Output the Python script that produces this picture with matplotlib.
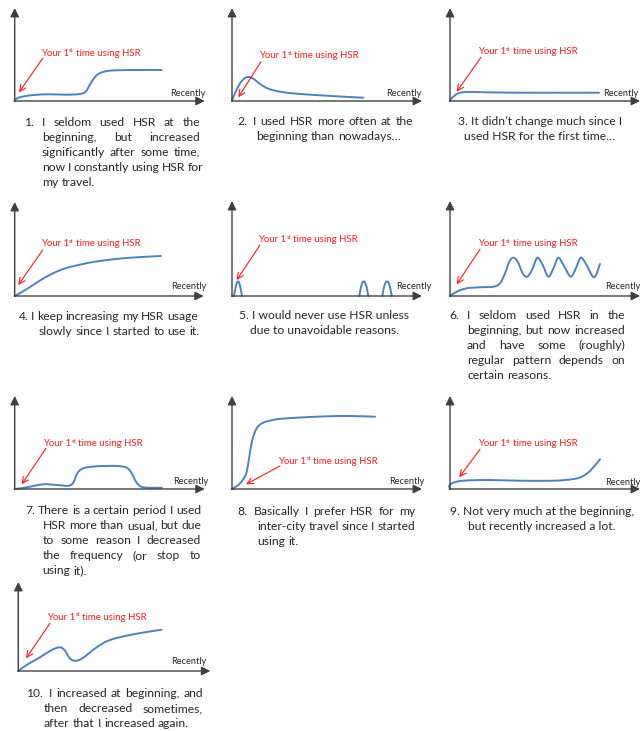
import numpy as np
import matplotlib
matplotlib.use('Agg')
import matplotlib.pyplot as plt
from matplotlib.path import Path
from matplotlib.patches import PathPatch

plt.rcParams['font.family'] = ['Lato', 'DejaVu Sans']

# ---- curve readings (time from first use, usage height), one pair per panel ----
c1_t = [0, 5, 18.7, 35, 52, 65, 71, 75, 80, 85, 95, 118, 147]
c1_u = [1, 3.7, 6, 6.7, 6.3, 7, 9.3, 16, 23.7, 27.7, 30.3, 31, 31]

c2_t = [0, 3, 8, 13, 16.3, 21.3, 28, 36.3, 48, 64.7, 88, 111.3, 131.3]
c2_u = [1, 7.7, 17.7, 23, 24, 22.3, 17, 12.3, 9.3, 7.3, 5.7, 4.3, 3.3]

c3_t = [0, 3.3, 8.3, 16.7, 36.7, 70, 110, 149]
c3_u = [1, 4.3, 7.7, 9, 8.7, 8.3, 8.3, 8.3]

c4_t = [0, 11.7, 25, 38.3, 51.7, 68.3, 85, 111.7, 146.3]
c4_u = [0, 6.7, 15.3, 22.7, 28, 32, 35, 38, 40]

# panel 5: three separate short trips
c5a_t = [2, 3.5, 5, 6, 7, 8.5, 10]
c5a_u = [0, 8, 13.5, 14.5, 13.5, 8, 0]
c5b_t = [127.3, 128.8, 130.5, 131.8, 133, 134.8, 136.3]
c5b_u = [0, 8, 13.5, 14.5, 13.5, 8, 0]
c5c_t = [150.3, 151.8, 153.6, 155, 156.4, 158.2, 159.7]
c5c_u = [0, 8, 13.5, 14.5, 13.5, 8, 0]

c6_t = [0, 6.7, 16.7, 30, 43.3, 50, 55, 59.3, 63.3, 67.7, 72.7, 77.3, 82.3, 87.3,
        92.7, 98.3, 103.3, 108.3, 114, 120.7, 125.7, 130.7, 136, 144, 150]
c6_u = [0, 4.3, 7.7, 8.7, 9.3, 12.7, 22.7, 34.3, 38.3, 34.3, 22.7, 19.3, 26.7, 38.3,
        31, 19.3, 27.3, 38.3, 30, 19.3, 27.3, 38.3, 32, 18.7, 32]

c7_t = [0.3, 12, 28.6, 42, 53.6, 58.6, 62.6, 68.6, 82, 102, 112, 117, 122, 128.6, 147]
c7_u = [0, 1.7, 4.7, 4, 3.3, 6.3, 15.7, 20.7, 22.7, 23, 21.3, 15.7, 6.3, 1.7, 1.3]

c8_t = [0, 6.3, 11.3, 14.7, 17.3, 20.3, 24.7, 31.3, 44.7, 64.7, 94.7, 118, 143]
c8_u = [0, 4, 9.7, 17.3, 32.3, 49, 60.7, 66.3, 69.7, 71.3, 72.7, 73, 72.3]

c9_t = [0, -0.7, 3.3, 13.3, 36.7, 70, 103.3, 121.7, 131.7, 140, 150]
c9_u = [0, 3.3, 6.3, 8.3, 9, 8.3, 8.3, 9.7, 12.3, 18, 29.7]

c10_t = [0, 8.3, 21.7, 33.4, 41.7, 46.7, 50.7, 55.7, 63.4, 78.4, 91.7, 115, 143.4]
c10_u = [0, 6, 13.7, 21, 23.7, 20.3, 13.7, 10.3, 12.3, 23.7, 31, 36.7, 41.3]

curves = [
    [(c1_t, c1_u)], [(c2_t, c2_u)], [(c3_t, c3_u)], [(c4_t, c4_u)],
    [(c5a_t, c5a_u), (c5b_t, c5b_u), (c5c_t, c5c_u)],
    [(c6_t, c6_u)], [(c7_t, c7_u)], [(c8_t, c8_u)], [(c9_t, c9_u)], [(c10_t, c10_u)],
]

# ---- captions ----
numbers = ['1.', '2.', '3.', '4.', '5.', '6.', '7.', '8.', '9.', '10.']
captions = [
    ['I seldom used HSR at the', 'beginning, but increased',
     'significantly after some time,', 'now I constantly using HSR for', 'my travel.'],
    ['I used HSR more often at the', 'beginning than nowadays…'],
    ['It didn’t change much since I', 'used HSR for the first time…'],
    ['I keep increasing my HSR usage', 'slowly since I started to use it.'],
    ['I would never use HSR unless', 'due to unavoidable reasons.'],
    ['I seldom used HSR in the', 'beginning, but now increased',
     'and have some (roughly)', 'regular pattern depends on', 'certain reasons.'],
    ['There is a certain period I used', 'HSR more than usual, but due',
     'to some reason I decreased', 'the frequency (or stop to', 'using it).'],
    ['Basically I prefer HSR for my', 'inter-city travel since I started', 'using it.'],
    ['Not very much at the beginning,', 'but recently increased a lot.'],
    ['I increased at beginning, and', 'then decreased sometimes,',
     'after that I increased again.'],
]
first_label = ('Your 1', 'st', 'time using HSR')
x_label = 'Recently'

# ---- layout (pixels) ----
origins = [(14.7, 101), (232, 101), (450, 101), (14.7, 296), (232, 296), (450, 296),
           (14.7, 489), (232, 489), (450, 489), (18.3, 671)]
ax_h = [93, 93, 93, 94, 95, 95, 93, 93, 93, 89]
ax_w = [190, 190, 190, 189, 190, 190, 190, 190, 190, 192]
recent_pos = [(155, 8.3), (153.7, 8.3), (153.3, 8.3), (156, 10.3), (164, 10.3), (155, 10.3),
              (158.7, 8.3), (157.3, 8.3), (155.5, 7.3), (152.7, 10)]
label_pos = [(26, 49), (27.3, 46), (27.7, 50.3), (26, 53.3), (26.3, 57.7), (27.7, 53.3),
             (28.6, 46.3), (46.3, 29), (27.7, 46.3), (29, 55)]
pointer = [((28, 42.7), (4.3, 8.7)), ((29, 39.3), (6.3, 3.7)), ((31, 43.7), (6.7, 9.3)),
           ((28, 46), (3.6, 11)), ((28, 51), (4.7, 16)), ((30, 46.7), (6.7, 11.7)),
           ((31.3, 40.7), (7, 4.7)), ((48, 23), (14, 4.7)), ((30, 39.7), (9.3, 11.7)),
           ((31.7, 47.7), (7.7, 12.7))]
# ('hang', x_num, x_first, x_indent, x_right, y_first) or ('center', cx, y_first)
cap_layout = [
    ('hang', 24, 42, 42, 200, 121.7),
    ('hang', 237, 253, 256, 413, 120.7),
    ('center', 540, 120.7),
    ('hang', 19, 31, 39, 198, 316),
    ('center', 324, 315),
    ('hang', 449, 467, 467, 625, 315),
    ('hang', 25, 38.3, 42.7, 201, 510),
    ('hang', 237, 254, 257, 415, 510.7),
    ('center', 542, 510.7),
    ('hang', 26, 49, 44, 203, 693),
]
LINE_STEP = 15

AXIS = '#404040'
BLUE = '#4F81BD'
RED = '#FF1A1A'
TEXT = '#262626'
CAP_SIZE = 8.7
RED_SIZE = 6.9
REC_SIZE = 6.7

fig = plt.figure(figsize=(6.4, 7.31), dpi=100)
ax = fig.add_axes([0, 0, 1, 1])
ax.set_xlim(0, 640)
ax.set_ylim(731, 0)
ax.axis('off')
renderer = fig.canvas.get_renderer()


def text_width(s, **kw):
    t = ax.text(0, 0, s, **kw)
    w = t.get_window_extent(renderer).width
    t.remove()
    return w


def smooth_path(xs, ys):
    # Catmull-Rom through the read points, as cubic Bezier segments
    p = np.column_stack([xs, ys]).astype(float)
    q = np.vstack([p[0], p, p[-1]])
    verts = [p[0]]
    codes = [Path.MOVETO]
    for i in range(1, len(q) - 2):
        c1 = q[i] + (q[i + 1] - q[i - 1]) / 6
        c2 = q[i + 1] - (q[i + 2] - q[i]) / 6
        verts += [c1, c2, q[i + 1]]
        codes += [Path.CURVE4] * 3
    return Path(verts, codes)


def put_words(words, x0, x1, y, justify, **kw):
    widths = [text_width(w, **kw) for w in words]
    space = text_width('a a', **kw) - text_width('aa', **kw)
    if justify and len(words) > 1:
        gap = max((x1 - x0 - sum(widths)) / (len(words) - 1), 0.8 * space)
    else:
        gap = space
    x = x0
    for w, wd in zip(words, widths):
        ax.text(x, y, w, ha='left', va='baseline', **kw)
        x += wd + gap


cap_kw = dict(fontsize=CAP_SIZE, color=TEXT)
red_kw = dict(fontsize=RED_SIZE, color=RED)

for i in range(10):
    ox, oy = origins[i]
    # axes with arrow heads
    arrow = dict(arrowstyle='-|>', color=AXIS, lw=1.0, mutation_scale=13,
                 shrinkA=0, shrinkB=0)
    ax.annotate('', xy=(ox, oy - ax_h[i]), xytext=(ox, oy + 0.5), arrowprops=arrow,
                annotation_clip=False)
    ax.annotate('', xy=(ox + ax_w[i], oy), xytext=(ox - 0.5, oy), arrowprops=arrow,
                annotation_clip=False)

    # usage curves
    for ts, us in curves[i]:
        xs = ox + np.array(ts)
        ys = oy - np.array(us)
        ax.add_patch(PathPatch(smooth_path(xs, ys), fill=False, edgecolor=BLUE,
                               lw=1.4, capstyle='round', joinstyle='round'))

    # "Recently"
    rx, rh = recent_pos[i]
    ax.text(ox + rx, oy - rh + 3.2, x_label, fontsize=REC_SIZE, color=TEXT,
            ha='left', va='baseline')

    # red label with superscript
    lx, lh = label_pos[i]
    x = ox + lx
    yb = oy - lh + 3.5
    ax.text(x, yb, first_label[0], ha='left', va='baseline', **red_kw)
    x += text_width(first_label[0], **red_kw)
    ax.text(x + 0.2, yb - 3.2, first_label[1], ha='left', va='baseline',
            fontsize=RED_SIZE * 0.62, color=RED)
    x += text_width(first_label[1], fontsize=RED_SIZE * 0.62) + 0.2
    x += 0.8 * (text_width('a a', **red_kw) - text_width('aa', **red_kw))
    ax.text(x, yb, first_label[2], ha='left', va='baseline', **red_kw)

    (tx, th), (px, ph) = pointer[i]
    ax.annotate('', xy=(ox + px, oy - ph), xytext=(ox + tx, oy - th),
                arrowprops=dict(arrowstyle='->', color=RED, lw=0.8,
                                mutation_scale=11, shrinkA=0, shrinkB=0))

    # caption
    lay = cap_layout[i]
    lines = captions[i]
    if lay[0] == 'center':
        cx, y0 = lay[1], lay[2]
        for k, line in enumerate(lines):
            s = numbers[i] + ' ' + line if k == 0 else line
            ax.text(cx, y0 + 4 + k * LINE_STEP, s, ha='center', va='baseline', **cap_kw)
    else:
        _, xn, xf, xi, xr, y0 = lay
        ax.text(xn, y0 + 4, numbers[i], ha='left', va='baseline', **cap_kw)
        for k, line in enumerate(lines):
            x0 = xf if k == 0 else xi
            justify = k < len(lines) - 1
            put_words(line.split(' '), x0, xr, y0 + 4 + k * LINE_STEP, justify, **cap_kw)

fig.savefig('out.png', dpi=100)
